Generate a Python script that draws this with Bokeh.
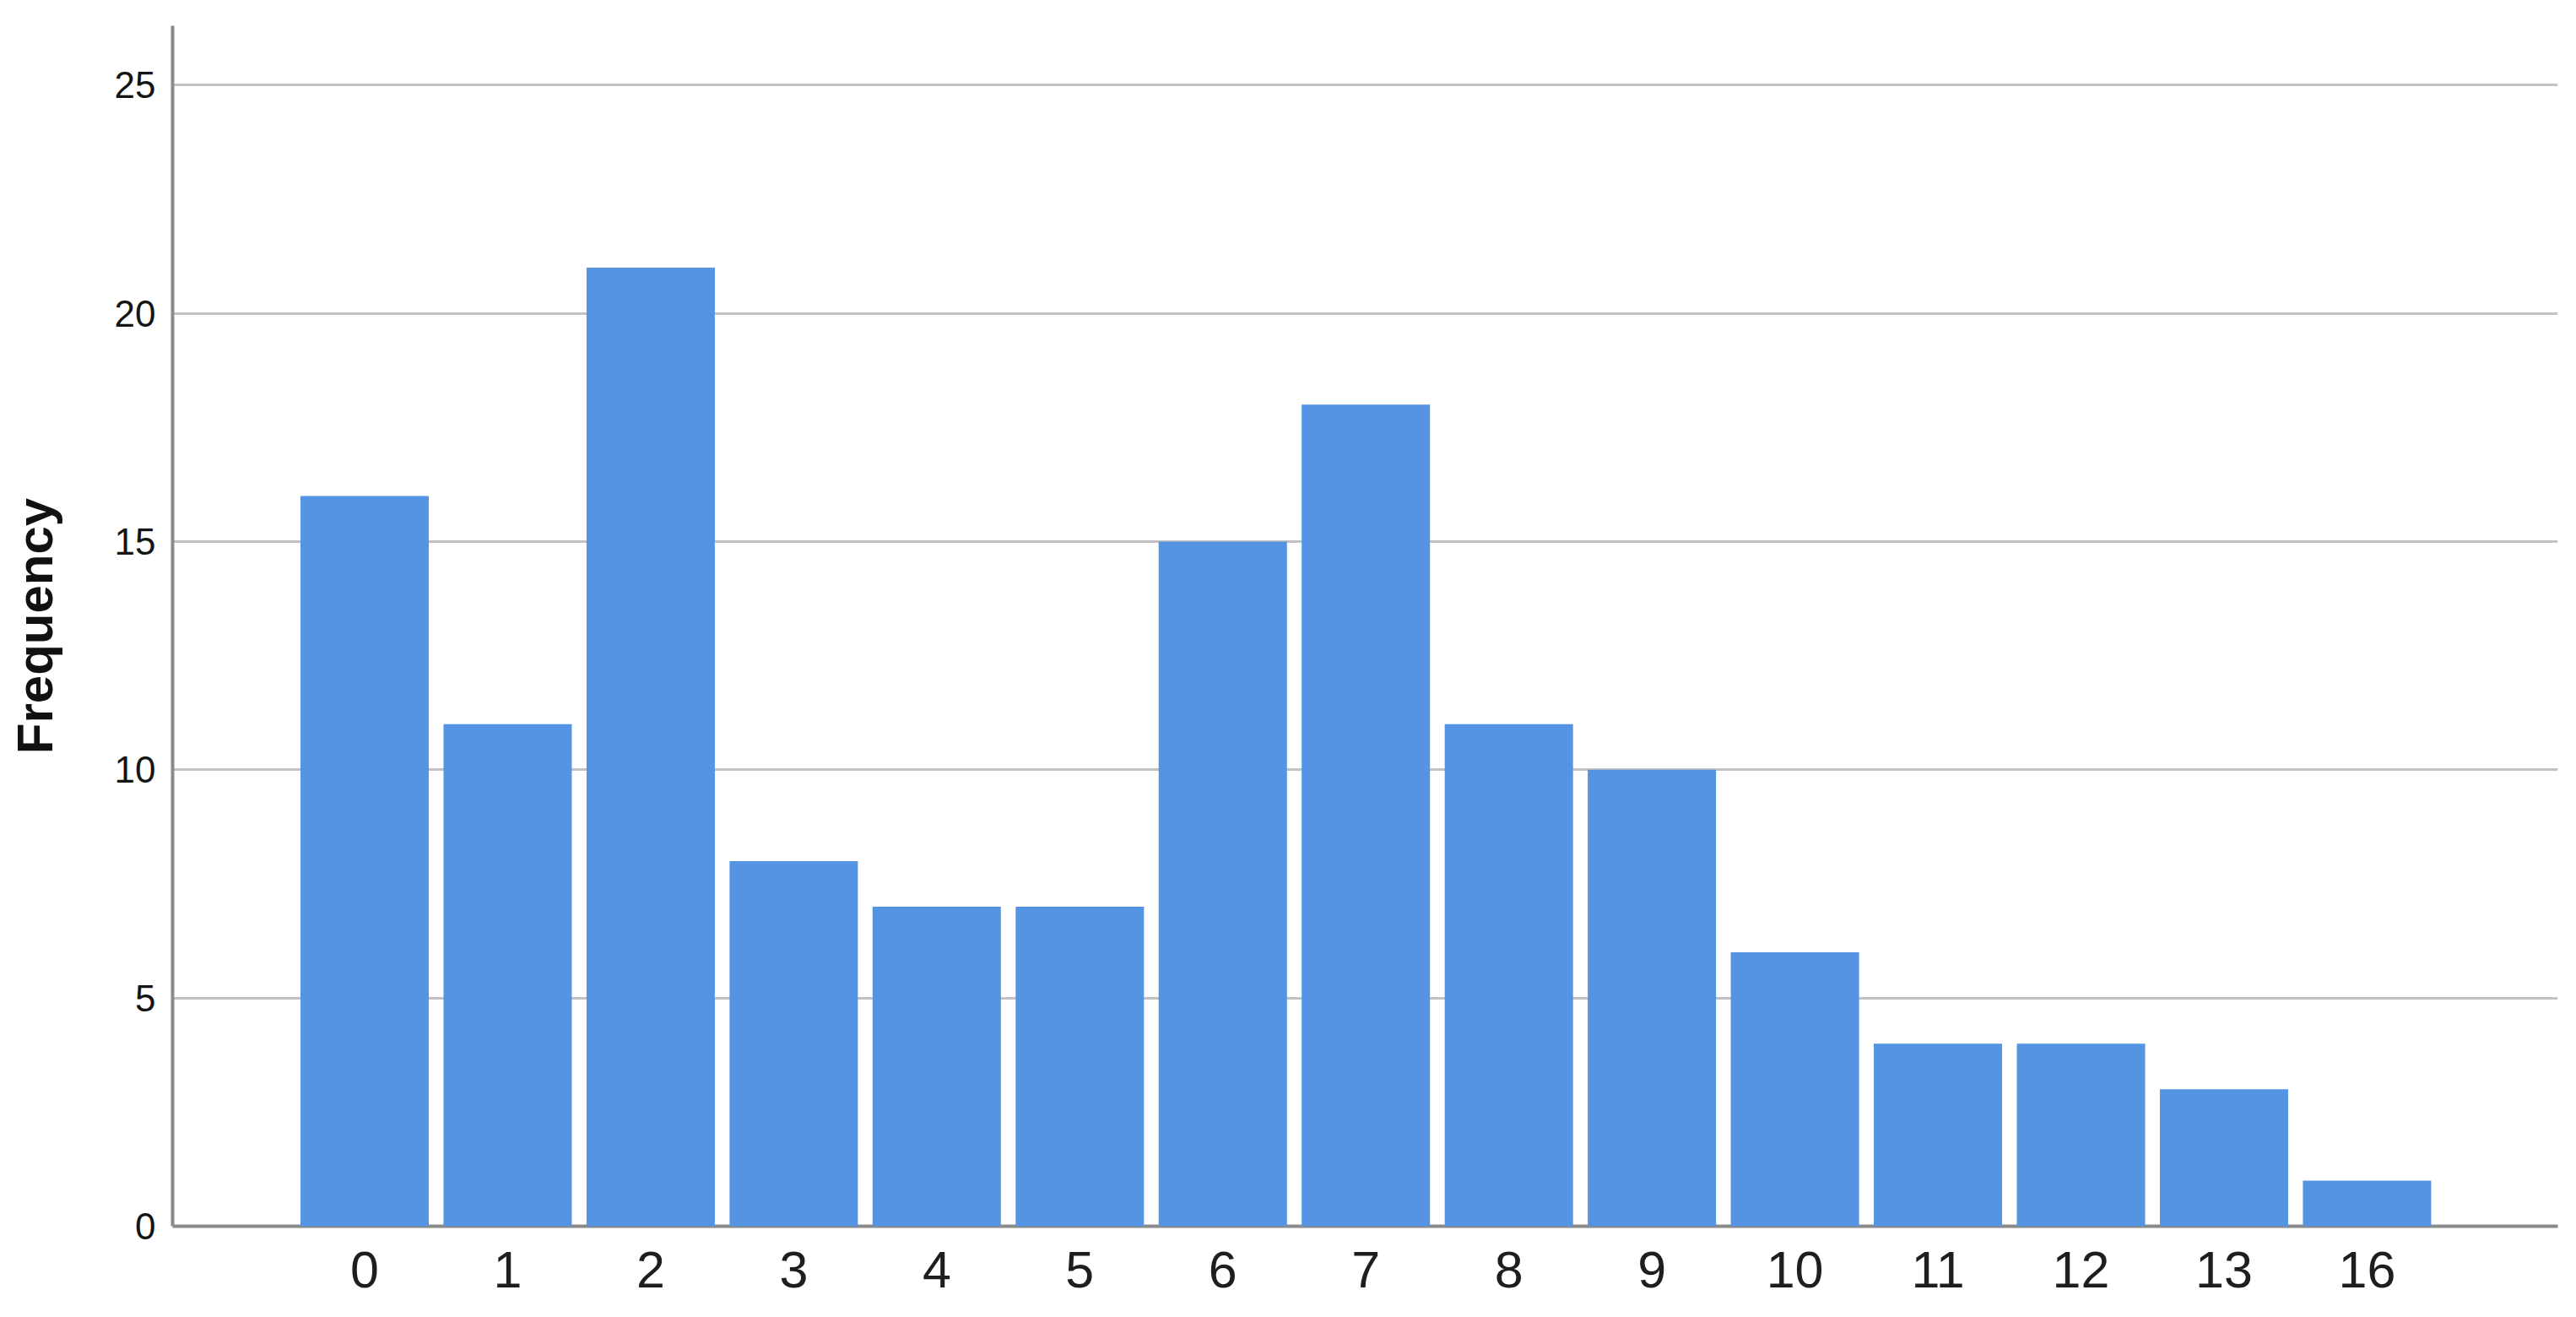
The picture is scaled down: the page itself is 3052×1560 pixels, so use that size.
from bokeh.plotting import figure
from bokeh.models import Range1d, FixedTicker, ColumnDataSource
from bokeh.embed import file_html
from bokeh.resources import INLINE

# ---- data ----
categories = ["0", "1", "2", "3", "4", "5", "6", "7", "8", "9", "10", "11", "12", "13", "16"]
frequency = [16, 11, 21, 8, 7, 7, 15, 18, 11, 10, 6, 4, 4, 3, 1]
y_ticks = [0, 5, 10, 15, 20, 25]
y_label = "Frequency"

positions = list(range(len(categories)))
source = ColumnDataSource(dict(x=positions, top=frequency, cat=categories))

p = figure(
    width=3052, height=1560,
    x_range=Range1d(-1.3425, 15.334),
    y_range=Range1d(0, 26.3),
    output_backend="svg", toolbar_location=None,
    min_border_left=204, min_border_right=22,
    min_border_top=30, min_border_bottom=108,
)
p.outline_line_color = None
p.background_fill_color = "white"
p.border_fill_color = "white"

r = p.vbar(x="x", top="top", bottom=0, width=0.897, source=source,
           fill_color="#5494e3", line_color=None)
r.level = "overlay"

# x axis
p.xaxis.ticker = FixedTicker(ticks=positions)
p.xaxis.major_label_overrides = {i: c for i, c in zip(positions, categories)}
p.xaxis.major_tick_line_color = None
p.xaxis.minor_tick_line_color = None
p.xaxis.axis_line_color = "#8a8a8a"
p.xaxis.axis_line_width = 4
p.xaxis.major_label_text_font = "Liberation Sans"
p.xaxis.major_label_text_font_size = "61px"
p.xaxis.major_label_text_color = "#1e1e1e"
p.xaxis.major_label_standoff = 24

# y axis
p.yaxis.ticker = FixedTicker(ticks=y_ticks)
p.yaxis.major_tick_line_color = None
p.yaxis.minor_tick_line_color = None
p.yaxis.axis_line_color = "#8a8a8a"
p.yaxis.axis_line_width = 4
p.yaxis.major_label_text_font = "Liberation Sans"
p.yaxis.major_label_text_font_size = "44px"
p.yaxis.major_label_text_color = "#141414"
p.yaxis.major_label_standoff = 14
p.yaxis.axis_label = y_label
p.yaxis.axis_label_text_font = "Liberation Sans"
p.yaxis.axis_label_text_font_style = "bold"
p.yaxis.axis_label_text_font_size = "60px"
p.yaxis.axis_label_text_color = "#111111"
p.yaxis.axis_label_standoff = 58

# grid
p.xgrid.grid_line_color = None
p.ygrid.ticker = FixedTicker(ticks=y_ticks)
p.ygrid.grid_line_color = "#c2c2c2"
p.ygrid.grid_line_width = 3

open("out.html", "w").write(file_html(p, INLINE))
